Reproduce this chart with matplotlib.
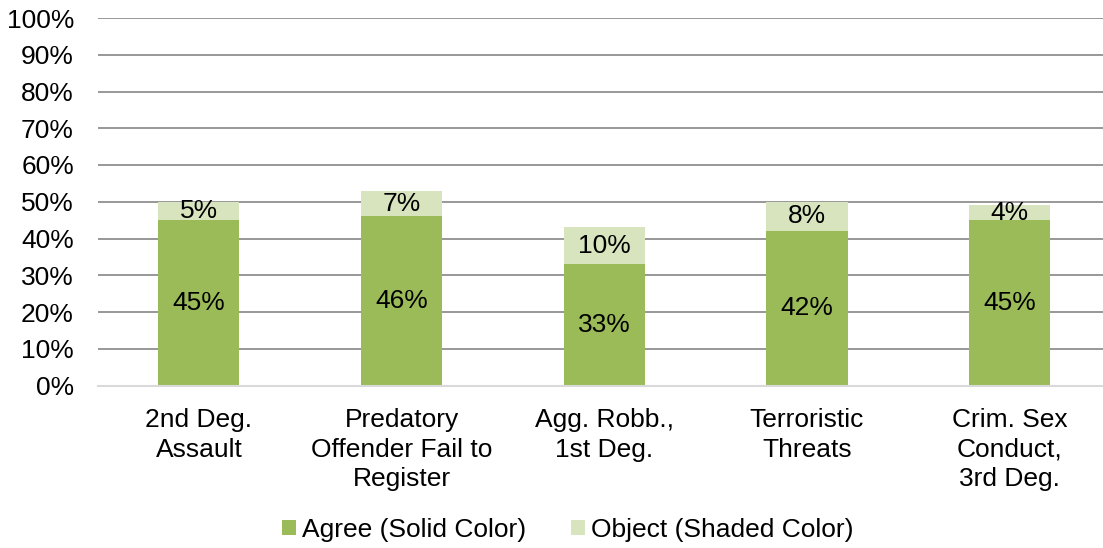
import matplotlib
matplotlib.use("Agg")
import matplotlib.pyplot as plt
import numpy as np
from matplotlib.ticker import PercentFormatter

plt.rcParams['font.family'] = ['Liberation Sans', 'DejaVu Sans']

categories = ["2nd Deg.\nAssault", "Predatory\nOffender Fail to\nRegister",
              "Agg. Robb.,\n1st Deg.", "Terroristic\nThreats",
              "Crim. Sex\nConduct,\n3rd Deg."]
agree = [45, 46, 33, 42, 45]
obj = [5, 7, 10, 8, 4]
yticks = list(range(0, 101, 10))

solid = "#9BBB59"
shaded = "#D7E4BD"

fig = plt.figure(figsize=(11.03, 5.48), dpi=100)
ax = fig.add_axes([97.6 / 1103, 1 - 385.5 / 548, (1111 - 97.6) / 1103, (385.5 - 18) / 548])

x = np.arange(len(categories))
ax.bar(x, agree, width=0.4, color=solid, label="Agree (Solid Color)", zorder=3)
ax.bar(x, obj, width=0.4, bottom=agree, color=shaded, label="Object (Shaded Color)", zorder=3)

fs = 19
for xi, a, o in zip(x, agree, obj):
    ax.text(xi, a / 2, f"{a}%", ha="center", va="center", fontsize=fs, zorder=4)
    ax.text(xi, a + o / 2, f"{o}%", ha="center", va="center", fontsize=fs, zorder=4)

ax.set_xlim(-0.5, len(categories) - 0.5)
ax.set_ylim(0, 100)
ax.set_yticks(yticks)
ax.yaxis.set_major_formatter(PercentFormatter(decimals=0))
ax.grid(axis="y", color="#868686", linewidth=1.2, zorder=0)
ax.set_xticks(x)
ax.set_xticklabels(categories, fontsize=fs, linespacing=1.29)
ax.tick_params(axis="y", labelsize=fs, length=0, pad=17)
ax.tick_params(axis="x", length=0, pad=16.5)
for s in ["top", "right", "left"]:
    ax.spines[s].set_visible(False)
ax.spines["bottom"].set_color("#D9D9D9")
ax.spines["bottom"].set_linewidth(1.5)
ax.spines["bottom"].set_zorder(5)

fig.legend(loc="center", bbox_to_anchor=(568 / 1103, 1 - 530 / 548), ncol=2,
           frameon=False, fontsize=fs, handlelength=0.53, handleheight=0.53,
           handletextpad=0.23, columnspacing=1.7, borderpad=0)

fig.savefig("out.png", dpi=100)
